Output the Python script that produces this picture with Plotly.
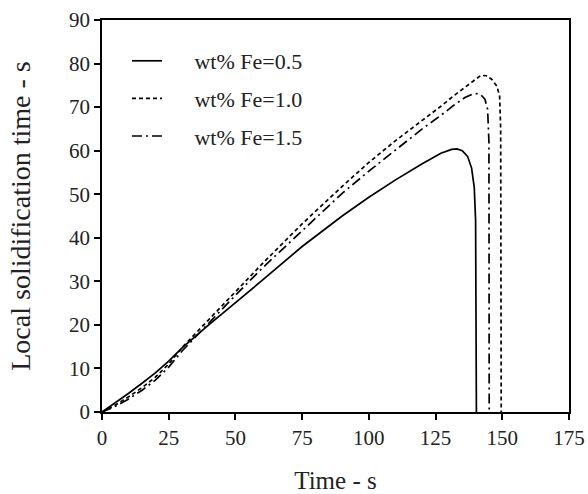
import plotly.graph_objects as go

# Fe = 0.5 wt% (solid)
t_05 = [0, 5, 10, 15, 20, 25, 30, 40, 50, 60, 75, 90, 100, 110, 120, 127, 131, 133, 135, 137, 138.5, 139.5, 140, 140.2, 140.3]
y_05 = [0, 2.1, 4.3, 6.6, 9.0, 11.7, 14.7, 20.0, 25.0, 30.2, 38.0, 45.0, 49.3, 53.3, 57.0, 59.4, 60.3, 60.4, 60.0, 58.7, 56.0, 51.5, 44, 20, 0]

# Fe = 1.0 wt% (dashed)
t_10 = [0, 5, 10, 15, 20, 25, 30, 40, 50, 60, 75, 90, 100, 110, 120, 127, 132, 137, 140, 142, 144, 146, 148, 149, 149.4, 149.6]
y_10 = [0, 1.6, 3.5, 5.6, 8.0, 11.0, 14.8, 21.3, 27.6, 34.0, 43.2, 51.8, 57.3, 62.3, 66.9, 70.2, 72.7, 75.1, 76.5, 77.3, 77.2, 76.4, 74.8, 72.5, 65, 0]

# Fe = 1.5 wt% (dash-dot)
t_15 = [0, 5, 10, 15, 20, 25, 30, 40, 50, 60, 75, 90, 100, 110, 120, 127, 132, 136, 139, 140.5, 142, 143.5, 144.5, 145, 145.1]
y_15 = [0, 1.3, 3.0, 5.0, 7.3, 10.3, 14.0, 20.5, 26.8, 33.0, 41.7, 50.2, 55.3, 60.2, 65.0, 68.1, 70.5, 72.2, 73.0, 73.1, 72.8, 71.8, 69.5, 62, 0]

names = ["wt% Fe=0.5", "wt% Fe=1.0", "wt% Fe=1.5"]
x_ticks = [0, 25, 50, 75, 100, 125, 150, 175]
y_ticks = [0, 10, 20, 30, 40, 50, 60, 70, 80, 90]

serif = "Liberation Serif, Times New Roman, serif"
pad = "\u00a0" * 5

fig = go.Figure()
fig.add_trace(go.Scatter(x=t_05, y=y_05, mode="lines", name=pad + names[0], legendgroup="a",
                         line=dict(color="black", width=1.7, dash="solid")))
fig.add_trace(go.Scatter(x=t_10, y=y_10, mode="lines", name=pad + names[1], legendgroup="b",
                         line=dict(color="black", width=1.7, dash="4px,3px")))
fig.add_trace(go.Scatter(x=t_15, y=y_15, mode="lines", name=pad + names[2], legendgroup="c",
                         line=dict(color="black", width=1.7, dash="10px,4px,2px,4px")))

axis_common = dict(showline=True, linecolor="black", linewidth=1.5, mirror=True,
                   ticks="outside", ticklen=6, tickwidth=1.5, tickcolor="black",
                   showgrid=False, zeroline=False, automargin=False,
                   tickfont=dict(family=serif, size=21, color="#222"))

fig.update_xaxes(range=[0, 175], tickvals=x_ticks,
                 title=dict(text="Time - s", font=dict(family=serif, size=25, color="#222"), standoff=26),
                 **axis_common)
fig.update_yaxes(range=[0, 90], tickvals=y_ticks,
                 title=dict(text="Local solidification time - s", font=dict(family=serif, size=28, color="#222"), standoff=30),
                 **axis_common)

fig.update_layout(
    width=588, height=494,
    margin=dict(l=102, r=19, t=20, b=82),
    paper_bgcolor="white", plot_bgcolor="white",
    showlegend=True,
    legend=dict(x=0.0535, y=0.949, xanchor="left", yanchor="top",
                bgcolor="rgba(0,0,0,0)", tracegroupgap=6,
                font=dict(family=serif, size=22, color="#222")),
)

fig.write_html("out.html", config={"displayModeBar": False},
               post_script="document.body.style.margin='0';")
